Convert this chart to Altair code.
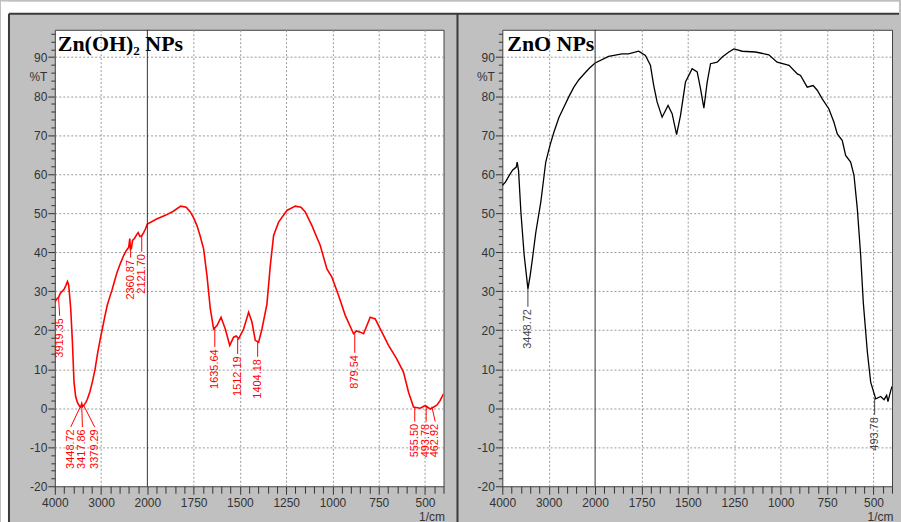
import json
import altair as alt
import pandas as pd

# ---------------- data ----------------
# Zn(OH)2 NPs spectrum (wavenumber 1/cm, %T)
L_WN = [4000, 3960, 3919, 3880, 3800, 3760, 3727, 3700, 3656, 3620, 3585, 3550, 3512, 3470,
        3441, 3418, 3400, 3370, 3330, 3297, 3240, 3189, 3130, 3082, 3030, 2974, 2920, 2867,
        2810, 2759, 2700, 2652, 2580, 2510, 2450, 2402, 2380, 2365, 2345, 2320, 2280, 2230,
        2200, 2160, 2121, 2080, 2040, 2000, 1950, 1900, 1860, 1820, 1790, 1768, 1750, 1732,
        1714, 1696, 1678, 1660, 1642, 1624, 1602, 1579, 1555, 1534, 1520, 1507, 1480, 1453,
        1435, 1417, 1399, 1381, 1354, 1336, 1318, 1291, 1246, 1201, 1170, 1147, 1111, 1066,
        1030, 1003, 967, 931, 886, 870, 850, 832, 796, 769, 733, 697, 652, 616, 589, 562,
        526, 499, 472, 436, 418, 400]
L_T = [27.2, 28.0, 28.4, 29.5, 30.5, 31.5, 32.5, 31.6, 25.5, 17.0, 6.7, 3.0, 1.5, 0.6,
       0.3, 1.2, 0.4, 0.8, 1.5, 2.3, 4.3, 6.7, 10.0, 13.6, 17.0, 20.3, 23.5, 26.4,
       28.6, 30.5, 33.0, 34.9, 37.2, 39.2, 40.5, 41.3, 43.5, 40.8, 41.0, 43.0, 43.5, 44.5,
       45.0, 44.0, 44.2, 45.0, 46.0, 47.2, 48.5, 49.5, 50.5, 51.8, 51.5, 50.3, 48.8, 46.8,
       44.0, 40.8, 34.0, 25.5, 20.3, 21.2, 23.3, 20.3, 16.1, 18.2, 18.5, 17.8, 20.3, 24.6,
       22.1, 17.4, 16.9, 20.3, 26.7, 36.5, 44.3, 47.7, 50.7, 51.8, 51.5, 50.3, 46.8, 41.7,
       35.7, 33.6, 28.9, 23.8, 19.1, 19.8, 19.5, 19.1, 23.3, 22.9, 19.5, 16.1, 12.6, 9.2, 4.1, 0.3,
       0.0, 0.7, -0.2, 0.8, 2.0, 3.7]

# ZnO NPs spectrum
R_WN = [4000, 3930, 3860, 3780, 3700, 3680, 3650, 3600, 3529, 3448, 3400, 3351, 3278, 3171,
        3064, 2970, 2887, 2780, 2672, 2560, 2458, 2350, 2244, 2120, 2000, 1927, 1855, 1820,
        1765, 1729, 1702, 1684, 1666, 1639, 1607, 1585, 1561, 1540, 1513, 1477, 1450, 1432,
        1414, 1396, 1378, 1342, 1315, 1279, 1252, 1207, 1136, 1064, 1019, 955, 910, 893,
        857, 825, 803, 776, 740, 713, 695, 668, 650, 623, 605, 587, 569, 555, 533, 515,
        488, 461, 443, 429, 422, 407, 400]
R_T = [57.1, 58.0, 59.5, 61.0, 61.8, 63.1, 60.9, 50.3, 39.2, 30.6, 34.0, 38.3, 45.1, 52.8,
       63.1, 67.5, 70.8, 74.5, 77.2, 80.0, 82.3, 84.2, 85.6, 87.2, 88.5, 90.2, 90.8, 90.8,
       91.5, 90.4, 87.9, 82.7, 78.5, 74.6, 77.6, 75.5, 70.1, 75.0, 83.6, 87.0, 86.2, 81.9,
       76.9, 83.6, 88.3, 88.7, 90.0, 91.3, 92.1, 91.5, 91.3, 90.6, 88.7, 87.9, 85.7, 85.3,
       82.3, 82.7, 81.5, 79.3, 76.7, 73.3, 70.3, 68.6, 64.8, 63.1, 59.7, 51.1, 39.2, 27.2, 14.4, 6.7,
       2.4, 3.0, 2.2, 3.3, 1.7, 4.5, 5.6]

# peak annotations
L_PK_LABEL = ["3919.35", "3448.72", "3417.86", "3379.29", "2360.87", "2121.70", "1635.64",
              "1512.19", "1404.18", "879.54", "555.50", "493.78", "462.92"]
L_PK_WN = [3919.35, 3448.72, 3417.86, 3379.29, 2360.87, 2121.70, 1635.64,
           1512.19, 1404.18, 879.54, 555.50, 493.78, 462.92]
L_PK_T = [28.4, 0.4, 0.6, 0.8, 40.8, 44.2, 20.5, 17.8, 16.9, 19.2, 0.3, 0.6, 0.4]
R_PK_LABEL = ["3448.72", "493.78"]
R_PK_WN = [3448.72, 493.78]
R_PK_T = [30.6, 2.6]

# label placement (wavenumber of label, %T of label top)
L_LAB_WN = [3895, 3656, 3404, 3140, 2360.87, 2121.70, 1635.64, 1512.19, 1404.18, 879.54, 555.50, 493.78, 445]
L_LAB_T = [23.1, -5.4, -5.4, -5.4, 38.0, 39.5, 15.1, 13.3, 12.6, 13.6, -4.0, -4.0, -4.0]
R_LAB_WN = [3448.72, 493.78]
R_LAB_T = [25.4, -2.3]

X_TICK_LABELS = ["4000", "3000", "2000", "1750", "1500", "1250", "1000", "750", "500"]
X_VALUES = [round(0.2 * i, 1) for i in range(43)]
Y_VALUES = list(range(-20, 97, 2))

H = 458
FONT = "Liberation Sans"
AXC = "#333333"


def uexpr(f):
    return (f"datum.{f} >= 2000 ? (4000 - datum.{f}) / 1000 : "
            f"2 + (2000 - datum.{f}) / 250")


XSCALE = alt.Scale(domain=[0, 8.4], nice=False, zero=False)
YSCALE = alt.Scale(domain=[-20, 97], nice=False, zero=False)

IS_INT = "abs(datum.value - round(datum.value)) < 0.01"


def x_axis(width):
    return alt.Axis(
        values=X_VALUES,
        labelExpr=f"{IS_INT} ? {json.dumps(X_TICK_LABELS)}[round(datum.value)] : ''",
        tickSize={"condition": {"test": IS_INT, "value": 8}, "value": 7},
        tickColor=AXC, domain=False,
        grid=True, gridColor="#9a9a9a", gridDash=[2, 2], gridWidth=1,
        gridOpacity={"condition": {"test": f"{IS_INT} && datum.value > 0.5 && abs(datum.value - 2) > 0.01",
                                   "value": 1}, "value": 0},
        labelFont=FONT, labelFontSize=12, labelColor=AXC, labelPadding=3,
        labelFlush=False, labelOverlap=False,
        title="1/cm", titleFont=FONT, titleFontSize=12, titleFontWeight="normal", titleColor=AXC,
        titleX=width + 1, titleY=34, titleAlign="right", titleBaseline="alphabetic",
    )


def y_axis():
    return alt.Axis(
        values=Y_VALUES,
        labelExpr="datum.value % 10 === 0 ? '' + datum.value : ''",
        tickSize={"condition": {"test": "datum.value % 10 === 0", "value": 7}, "value": 4},
        tickColor=AXC, domain=False,
        grid=True, gridColor="#9a9a9a", gridDash=[2, 2], gridWidth=1,
        gridOpacity={"condition": {"test": "datum.value % 10 === 0 && datum.value > -20",
                                   "value": 1}, "value": 0},
        labelFont=FONT, labelFontSize=12, labelColor=AXC, labelPadding=1, labelOverlap=False,
        title="%T", titleFont=FONT, titleFontSize=12, titleFontWeight="normal", titleColor=AXC,
        titleAngle=0, titleX=-8, titleY=47, titleAlign="right", titleBaseline="middle",
    )


ONE = pd.DataFrame({"k": [0]})


def panel(wn, t, color, lw, title, title_dx, pk_lab, pk_wn, pk_t, lab_wn, lab_t, txt_color,
          width, frame=False):
    XA = x_axis(width)
    YA = y_axis()
    df = pd.DataFrame({"wn": wn, "t": t})
    line = alt.Chart(df).transform_calculate(u=uexpr("wn")).mark_line(
        color=color, strokeWidth=lw, clip=True
    ).encode(
        x=alt.X("u:Q", scale=XSCALE, axis=XA),
        y=alt.Y("t:Q", scale=YSCALE, axis=YA),
        order="u:Q",
    )
    brk = alt.Chart(pd.DataFrame({"wn": [2000]})).transform_calculate(u=uexpr("wn")).mark_rule(
        color="#333333", strokeWidth=1
    ).encode(x=alt.X("u:Q", scale=XSCALE, axis=XA), y=alt.value(0), y2=alt.value(H))

    adf = pd.DataFrame({"label": pk_lab, "pw": pk_wn, "pt": pk_t, "lw": lab_wn, "lt": lab_t})
    abase = alt.Chart(adf).transform_calculate(
        pu=uexpr("pw"), lu=uexpr("lw"), lt2="datum.lt + 0.6"
    )
    leaders = abase.mark_rule(color=txt_color, strokeWidth=1).encode(
        x=alt.X("pu:Q", scale=XSCALE, axis=XA),
        y=alt.Y("pt:Q", scale=YSCALE, axis=YA),
        x2="lu:Q", y2="lt2:Q",
    )
    labels = abase.mark_text(
        angle=270, align="right", baseline="middle", font=FONT, fontSize=11, color=txt_color
    ).encode(
        x=alt.X("lu:Q", scale=XSCALE, axis=XA),
        y=alt.Y("lt:Q", scale=YSCALE, axis=YA),
        text="label:N",
    )
    ttl = alt.Chart(ONE).mark_text(
        text=title, font="Liberation Serif", fontWeight="bold", fontSize=22,
        align="left", baseline="alphabetic", color="black"
    ).encode(x=alt.value(title_dx), y=alt.value(21))

    layers = []
    if frame:
        top_strip = alt.Chart(ONE).mark_rect(color="white").encode(
            x=alt.value(-54), x2=alt.value(847), y=alt.value(-28), y2=alt.value(-16))
        left_strip = alt.Chart(ONE).mark_rect(color="white").encode(
            x=alt.value(-54), x2=alt.value(-46), y=alt.value(-28), y2=alt.value(494))
        b_top = alt.Chart(ONE).mark_rule(color="#3a3a3a", strokeWidth=2).encode(
            x=alt.value(-46), x2=alt.value(847), y=alt.value(-16))
        b_left = alt.Chart(ONE).mark_rule(color="#3a3a3a", strokeWidth=2).encode(
            x=alt.value(-46), y=alt.value(-16), y2=alt.value(494))
        b_sep = alt.Chart(ONE).mark_rule(color="#3a3a3a", strokeWidth=2).encode(
            x=alt.value(404), y=alt.value(-16), y2=alt.value(494))
        layers += [top_strip, left_strip, b_top, b_left, b_sep]
    layers += [line, brk, leaders, labels, ttl]
    return alt.layer(*layers).properties(width=width, height=H)


left = panel(L_WN, L_T, "#ff0000", 1.6, "Zn(OH)\u2082 NPs", 3, L_PK_LABEL, L_PK_WN, L_PK_T,
             L_LAB_WN, L_LAB_T, "#ff0000", 390, frame=True)
right = panel(R_WN, R_T, "#000000", 1.3, "ZnO NPs", 5, R_PK_LABEL, R_PK_WN, R_PK_T,
              R_LAB_WN, R_LAB_T, "#444444", 391)

chart = alt.hconcat(left, right, spacing=59, bounds="flush").properties(
    background="#c0c0c0", padding=0
).configure_view(
    fill="white", stroke="#404040", strokeWidth=1
)

chart.save("out.html", embed_options={"renderer": "svg", "actions": False})
